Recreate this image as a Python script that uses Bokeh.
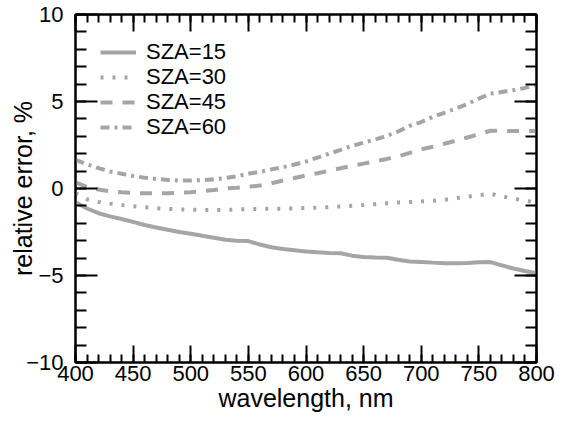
from bokeh.plotting import figure
from bokeh.models import Range1d, FixedTicker, LinearAxis, Legend, LegendItem
from bokeh.embed import file_html
from bokeh.resources import INLINE

wavelength = [400, 410, 420, 430, 440, 450, 460, 470, 480, 490, 500, 510, 520, 530, 540,
              550, 560, 570, 580, 590, 600, 610, 620, 630, 640, 650, 660, 670, 680, 690,
              700, 710, 720, 730, 740, 750, 760, 770, 780, 790, 800]

sza15 = [-0.79, -1.15, -1.42, -1.60, -1.75, -1.92, -2.10, -2.24, -2.37, -2.50, -2.60,
         -2.72, -2.83, -2.94, -3.00, -3.02, -3.22, -3.38, -3.48, -3.55, -3.62, -3.67,
         -3.71, -3.72, -3.86, -3.94, -3.97, -3.98, -4.10, -4.19, -4.22, -4.26, -4.29,
         -4.29, -4.28, -4.24, -4.23, -4.42, -4.60, -4.74, -4.87]

sza30 = [-0.27, -0.62, -0.77, -0.87, -0.95, -1.02, -1.08, -1.13, -1.17, -1.20, -1.22,
         -1.23, -1.23, -1.23, -1.21, -1.18, -1.17, -1.17, -1.16, -1.14, -1.12, -1.10,
         -1.07, -1.03, -0.99, -0.95, -0.90, -0.85, -0.80, -0.78, -0.74, -0.70, -0.65,
         -0.56, -0.47, -0.38, -0.30, -0.45, -0.58, -0.70, -0.80]

sza45 = [0.36, 0.08, -0.06, -0.16, -0.22, -0.26, -0.27, -0.27, -0.27, -0.24, -0.21,
         -0.15, -0.08, 0.00, 0.04, 0.10, 0.17, 0.30, 0.46, 0.60, 0.75, 0.88, 1.02, 1.16,
         1.31, 1.43, 1.56, 1.70, 1.85, 2.05, 2.25, 2.40, 2.57, 2.75, 2.93, 3.12, 3.32,
         3.32, 3.30, 3.30, 3.30]

sza60 = [1.65, 1.38, 1.17, 0.98, 0.85, 0.72, 0.62, 0.55, 0.49, 0.46, 0.46, 0.48, 0.53,
         0.60, 0.70, 0.85, 0.95, 1.10, 1.22, 1.38, 1.55, 1.78, 2.00, 2.22, 2.45, 2.63,
         2.82, 3.02, 3.28, 3.60, 3.82, 4.12, 4.35, 4.60, 4.85, 5.17, 5.45, 5.55, 5.65,
         5.78, 5.95]

series_labels = ["SZA=15", "SZA=30", "SZA=45", "SZA=60"]
x_ticks = [400, 450, 500, 550, 600, 650, 700, 750, 800]
y_ticks = [-10, -5, 0, 5, 10]
y_tick_labels = ["\u221210", "\u22125", "0", "5", "10"]

FONT = "Liberation Sans"
GREY = "#a5a5a5"

p = figure(width=568, height=421, output_backend="svg", toolbar_location=None,
           x_range=Range1d(400, 800), y_range=Range1d(-10, 10),
           min_border_left=75, min_border_right=32, min_border_top=14, min_border_bottom=59,
           x_axis_label="wavelength, nm", y_axis_label="relative error, %")
p.background_fill_color = "white"
p.border_fill_color = "white"
p.grid.visible = False
p.outline_line_color = "black"
p.outline_line_width = 2

xt = FixedTicker(ticks=x_ticks, minor_ticks=list(range(400, 801, 10)))
yt = FixedTicker(ticks=y_ticks, minor_ticks=list(range(-10, 11, 1)))

def style_axis(ax, major_in, minor_in, show_labels):
    ax.axis_line_color = "black"
    ax.axis_line_width = 2
    ax.major_tick_line_color = "black"
    ax.major_tick_line_width = 2
    ax.minor_tick_line_color = "black"
    ax.minor_tick_line_width = 2
    ax.major_tick_in = major_in
    ax.major_tick_out = 0
    ax.minor_tick_in = minor_in
    ax.minor_tick_out = 0
    ax.major_label_text_font = FONT
    ax.major_label_text_font_size = "22px"
    ax.major_label_text_color = "black" if show_labels else None
    ax.axis_label_text_font = FONT
    ax.axis_label_text_font_size = "25px"
    ax.axis_label_text_font_style = "normal"
    ax.axis_label_text_color = "black"

xa = p.xaxis[0]
xa.ticker = xt
style_axis(xa, 17, 8, True)
xa.major_label_standoff = 3
xa.axis_label_standoff = 0

ya = p.yaxis[0]
ya.ticker = yt
style_axis(ya, 22, 11, True)
ya.major_label_overrides = {float(v): s for v, s in zip(y_ticks, y_tick_labels)}
ya.major_label_standoff = 12
ya.axis_label_standoff = -14

top = LinearAxis(ticker=xt)
style_axis(top, 17, 8, False)
top.major_label_text_font_size = "0px"
p.add_layout(top, "above")

right = LinearAxis(ticker=yt)
style_axis(right, 22, 11, False)
right.major_label_text_font_size = "0px"
p.add_layout(right, "right")

series = [sza15, sza30, sza45, sza60]
dashes = ["solid", "3 9", "12 10", "9 5 3 5"]
legend_offsets = [297, 272, 247, 222]
for lab, ys, d, off in zip(series_labels, series, dashes, legend_offsets):
    r = p.line(wavelength, ys, line_color=GREY, line_width=4, line_dash=d)
    leg = Legend(items=[LegendItem(label=lab, renderers=[r])], location=(25, off))
    leg.background_fill_alpha = 0
    leg.border_line_color = None
    leg.label_text_font = FONT
    leg.label_text_font_size = "22px"
    leg.label_text_color = "black"
    leg.glyph_width = 36
    leg.glyph_height = 20
    leg.label_height = 20
    leg.label_standoff = 10
    leg.spacing = 0
    leg.margin = 0
    leg.padding = 3
    p.add_layout(leg)

open("out.html", "w").write(file_html(p, INLINE))
